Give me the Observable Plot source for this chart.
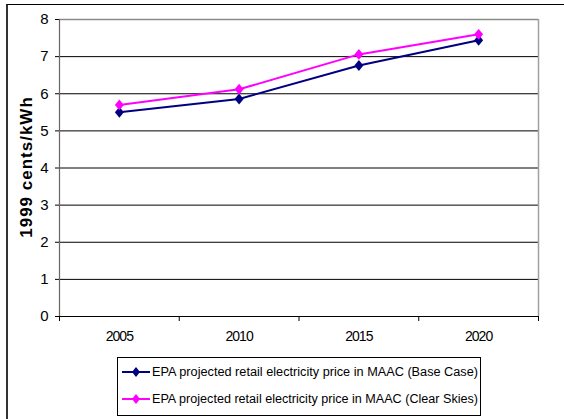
<!DOCTYPE html>
<html><head><meta charset="utf-8">
<script src="https://cdn.jsdelivr.net/npm/d3@7"></script>
<script src="https://cdn.jsdelivr.net/npm/@observablehq/plot@0.6"></script>
<style>
body{margin:0;background:#fff;}
#wrap{position:relative;width:564px;height:419px;overflow:hidden;font-family:"Liberation Sans",Arial,sans-serif;background:#fff;}
#chart{position:absolute;left:0;top:0;}
#border{position:absolute;left:6px;top:4px;width:700px;height:600px;border-left:2px solid #333;border-top:1px solid #000;pointer-events:none;}
#legend{position:absolute;left:117px;top:357px;width:364px;height:59px;border:1px solid #000;box-sizing:border-box;background:#fff;}
</style></head><body>
<div id="wrap"><div id="chart"></div><div id="border"></div><div id="legend"></div></div>
<script>
const years = [2005, 2010, 2015, 2020];
const baseCase = [5.50, 5.86, 6.76, 7.44];
const clearSkies = [5.70, 6.12, 7.06, 7.60];
const yTicks = [0, 1, 2, 3, 4, 5, 6, 7, 8];
const seriesNames = [
  "EPA projected retail electricity price in MAAC (Base Case)",
  "EPA projected retail electricity price in MAAC (Clear Skies)"
];
const seriesColors = ["#000080", "#FF00FF"];
const yTitle = "1999 cents/kWh";

const half = (years[1] - years[0]) / 2;
const xMin = years[0] - half, xMax = years[years.length - 1] + half;
const boundaries = [...years.map(y => y - half), xMax];
const yMax = yTicks[yTicks.length - 1];

const baseData = years.map((y, i) => ({year: y, value: baseCase[i], series: seriesNames[0]}));
const clearData = years.map((y, i) => ({year: y, value: clearSkies[i], series: seriesNames[1]}));

const diamond = {
  draw(ctx, size) {
    const s = Math.sqrt(size), h = s * 0.56, w = s * 0.46;
    ctx.moveTo(0, -h); ctx.lineTo(w, 0); ctx.lineTo(0, h); ctx.lineTo(-w, 0); ctx.closePath();
  }
};

const chart = Plot.plot({
  width: 564,
  height: 419,
  marginLeft: 59,
  marginRight: 26,
  marginTop: 19,
  marginBottom: 103,
  style: {fontFamily: "'Liberation Sans', Arial, sans-serif", fontSize: "15px", background: "transparent", color: "#000"},
  x: {domain: [xMin, xMax], axis: null},
  y: {domain: [0, yMax], ticks: yTicks.length - 1, tickSize: 4, tickPadding: 7, label: null, tickFormat: d => String(d)},
  color: {domain: seriesNames, range: seriesColors},
  marks: [
    Plot.ruleY(yTicks.filter(d => d > 0 && d < yMax), {stroke: "#000", strokeWidth: 1}),
    Plot.ruleY([yMax], {stroke: "#8a8a8a", strokeWidth: 1.5}),
    Plot.ruleX([xMax], {stroke: "#a0a0a0", strokeWidth: 1.5}),
    Plot.ruleX([xMin], {stroke: "#666", strokeWidth: 1.2}),
    Plot.ruleY([0], {stroke: "#000", strokeWidth: 1}),
    Plot.ruleX(boundaries, {x: d => d, y1: 0, y2: 0, insetBottom: -5, stroke: "#000"}),
    Plot.line(baseData, {x: "year", y: "value", stroke: "series", strokeWidth: 2}),
    Plot.dot(baseData, {x: "year", y: "value", fill: "series", symbol: diamond, r: 5.5, stroke: null}),
    Plot.line(clearData, {x: "year", y: "value", stroke: "series", strokeWidth: 2}),
    Plot.dot(clearData, {x: "year", y: "value", fill: "series", symbol: diamond, r: 5.5, stroke: null}),
    Plot.text(years, {x: d => d, text: d => String(d), frameAnchor: "bottom", dy: 24, fontSize: 14, fill: "#000"}),
    Plot.text([yTitle], {text: d => d, frameAnchor: "left", textAnchor: "middle", rotate: -90, dx: -33, dy: -1, fontSize: 17, fontWeight: "bold", fill: "#000"})
  ]
});
document.getElementById("chart").appendChild(chart);

const yearStr = years.map(String);
d3.select(chart).selectAll("text")
  .filter(function() { return yearStr.includes(this.textContent); })
  .attr("letter-spacing", "-1px");
d3.select(chart).selectAll("text")
  .filter(function() { return this.textContent === yTitle; })
  .attr("letter-spacing", "1px");

// Legend
const lg = d3.select("#legend").append("svg").attr("width", 362).attr("height", 57)
  .style("display", "block");
const rows = [14, 41];
seriesNames.forEach((name, i) => {
  const g = lg.append("g").attr("transform", `translate(0,${rows[i]})`);
  g.append("line").attr("x1", 4).attr("x2", 32).attr("y1", 0).attr("y2", 0)
    .attr("stroke", seriesColors[i]).attr("stroke-width", 2);
  g.append("path").attr("d", "M18,-5L22,0L18,5L14,0Z").attr("fill", seriesColors[i]);
  g.append("text").attr("x", 34).attr("y", 0).attr("dy", "0.35em")
    .attr("font-size", 12).attr("font-family", "'Liberation Sans', Arial, sans-serif")
    .attr("textLength", 326).attr("lengthAdjust", "spacingAndGlyphs")
    .text(name);
});
</script>
</body></html>
